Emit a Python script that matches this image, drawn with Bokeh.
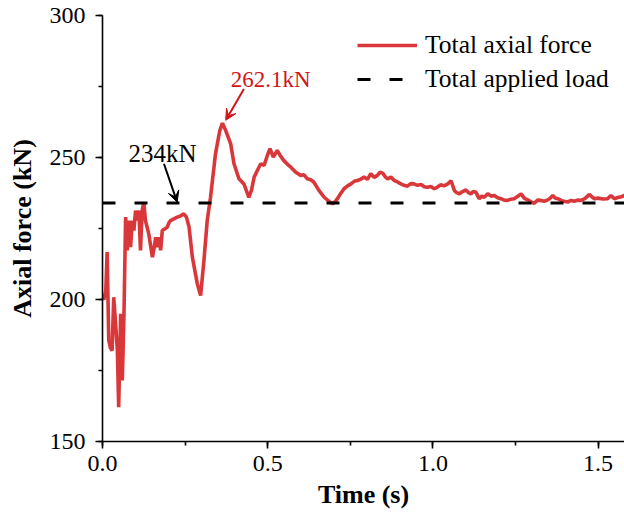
from bokeh.plotting import figure
from bokeh.models import (SingleIntervalTicker, Arrow, VeeHead, Label,
                          NumeralTickFormatter, Range1d)
from bokeh.embed import file_html
from bokeh.resources import INLINE

# ---- data ----
time_s = [0.000, 0.004, 0.010, 0.014, 0.019, 0.024, 0.029, 0.034, 0.039, 0.045,
          0.049, 0.055, 0.060, 0.065, 0.070, 0.075, 0.080, 0.085, 0.090, 0.095,
          0.100, 0.105, 0.110, 0.115, 0.120, 0.125, 0.130, 0.140, 0.151, 0.156,
          0.161, 0.166, 0.171, 0.176, 0.181, 0.188, 0.196, 0.201, 0.206, 0.216,
          0.226, 0.236, 0.246, 0.254, 0.262, 0.272, 0.287, 0.297, 0.307, 0.317,
          0.327, 0.342, 0.355, 0.363, 0.373, 0.388, 0.398, 0.413, 0.428, 0.443,
          0.451, 0.459, 0.469, 0.479, 0.489, 0.499, 0.507, 0.517, 0.529, 0.539,
          0.549, 0.560, 0.570, 0.585, 0.600, 0.610, 0.620, 0.630, 0.640, 0.655,
          0.671, 0.685, 0.696, 0.704, 0.711, 0.721, 0.731, 0.742, 0.752, 0.762,
          0.772, 0.782, 0.792, 0.802, 0.812, 0.822, 0.832, 0.840, 0.848, 0.856,
          0.863, 0.873, 0.883, 0.893, 0.903, 0.913, 0.923, 0.933, 0.943, 0.953,
          0.964, 0.974, 0.984, 0.994, 1.004, 1.014, 1.024, 1.034, 1.045, 1.055,
          1.065, 1.072, 1.080, 1.090, 1.100, 1.108, 1.115, 1.122, 1.130, 1.140,
          1.148, 1.155, 1.166, 1.176, 1.186, 1.196, 1.206, 1.216, 1.226, 1.236,
          1.246, 1.256, 1.267, 1.277, 1.287, 1.297, 1.307, 1.317, 1.327, 1.337,
          1.348, 1.356, 1.363, 1.370, 1.378, 1.390, 1.408, 1.418, 1.428, 1.438,
          1.448, 1.460, 1.474, 1.482, 1.489, 1.500, 1.515, 1.529, 1.539, 1.549,
          1.560, 1.570, 1.580]
axial_kN = [200.8, 200.0, 203.0, 216.7, 185.6, 183.0, 182.0, 200.8, 192.6, 182.0,
            162.1, 195.0, 171.5, 195.0, 229.0, 217.3, 227.8, 218.4, 227.8, 224.3,
            231.3, 227.8, 231.3, 217.3, 231.3, 234.3, 227.8, 223.1, 214.9, 218.0,
            221.9, 218.4, 221.9, 217.3, 224.3, 224.8, 225.5, 227.0, 227.8, 228.4,
            229.0, 229.4, 230.2, 229.0, 225.5, 214.9, 205.5, 201.4, 213.7, 227.8,
            236.0, 251.3, 259.5, 262.1, 259.5, 254.8, 247.8, 242.5, 240.7, 236.0,
            238.5, 243.1, 245.5, 247.8, 247.2, 250.7, 253.1, 250.1, 252.5, 250.5,
            248.9, 247.6, 246.6, 244.8, 243.7, 243.9, 242.5, 242.2, 241.3, 238.4,
            236.0, 234.6, 233.7, 234.4, 235.5, 237.3, 239.0, 240.0, 240.7, 241.6,
            241.9, 242.4, 243.1, 242.3, 244.3, 243.0, 243.7, 244.8, 244.5, 243.2,
            242.5, 243.1, 241.9, 241.4, 240.7, 240.2, 239.9, 240.8, 240.7, 240.2,
            240.5, 239.7, 239.5, 239.8, 239.0, 239.6, 240.4, 240.0, 240.7, 241.8,
            238.4, 237.6, 237.2, 238.0, 238.6, 237.6, 237.2, 238.0, 237.8, 235.5,
            236.4, 236.0, 237.2, 236.4, 236.6, 235.8, 235.5, 235.0, 234.9, 235.3,
            235.5, 236.3, 237.2, 235.6, 235.1, 234.4, 233.9, 235.0, 234.9, 234.6,
            235.1, 235.8, 236.6, 235.7, 235.5, 234.8, 234.3, 234.9, 234.6, 235.0,
            234.9, 235.5, 237.0, 236.1, 235.5, 235.7, 235.4, 235.5, 236.6, 235.5,
            235.9, 236.2, 236.6]
applied_load = 234.0
peak_text = "262.1kN"
load_text = "234kN"
series_names = ["Total axial force", "Total applied load"]

x_end = 1.58
FONT = "Liberation Serif"
RED = "#d9373a"
DARK_RED = "#d0151c"

p = figure(width=624, height=516, output_backend="svg", toolbar_location=None,
           x_range=Range1d(0, x_end), y_range=Range1d(150, 300),
           min_border_left=102, min_border_right=0, min_border_top=15,
           min_border_bottom=75)
p.outline_line_color = None
p.grid.visible = False
p.background_fill_color = "white"
p.border_fill_color = "white"

p.line(time_s, axial_kN, line_color=RED, line_width=3.6,
       legend_label=series_names[0])
p.line([0, x_end], [applied_load, applied_load], line_color="black",
       line_width=3, line_dash="13 19", legend_label=series_names[1])

for ax in (p.xaxis[0], p.yaxis[0]):
    ax.axis_line_width = 1.6
    ax.axis_line_color = "black"
    ax.major_tick_line_width = 1.6
    ax.minor_tick_line_width = 1.6
    ax.major_tick_out = 7
    ax.major_tick_in = 0
    ax.minor_tick_out = 4
    ax.minor_tick_in = 0
    ax.major_label_text_font = FONT
    ax.major_label_text_font_size = "24px"
    ax.major_label_text_color = "black"
    ax.axis_label_text_font = FONT
    ax.axis_label_text_font_style = "bold"
    ax.axis_label_text_font_size = "26px"
    ax.axis_label_text_color = "black"

p.xaxis.ticker = SingleIntervalTicker(interval=0.5, num_minor_ticks=2)
p.yaxis.ticker = SingleIntervalTicker(interval=50, num_minor_ticks=2)
p.xaxis.formatter = NumeralTickFormatter(format="0.0")
p.xaxis.axis_label = "Time (s)"
p.yaxis.axis_label = "Axial force (kN)"
p.yaxis.major_label_standoff = 10
p.xaxis.major_label_standoff = 7
p.yaxis.axis_label_standoff = 10
p.xaxis.axis_label_standoff = 6

leg = p.legend[0]
leg.location = (255, 347)
leg.background_fill_alpha = 0
leg.border_line_color = None
leg.padding = 0
leg.margin = 0
leg.spacing = 4
leg.glyph_width = 60
leg.glyph_height = 24
leg.label_standoff = 8
leg.label_text_font = FONT
leg.label_text_font_size = "25.5px"
leg.label_text_color = "black"

# annotations
peak_i = axial_kN.index(max(axial_kN))
pk_t, pk_y = time_s[peak_i], axial_kN[peak_i]
p.add_layout(Arrow(end=VeeHead(size=11, fill_color=DARK_RED, line_color=DARK_RED),
                   x_start=pk_t + 0.065, y_start=pk_y + 12,
                   x_end=pk_t + 0.01, y_end=pk_y + 1,
                   line_color=DARK_RED, line_width=2))
p.add_layout(Label(x=pk_t + 0.146, y=pk_y + 15.5, text=peak_text,
                   text_font=FONT, text_font_size="23px", text_color=DARK_RED,
                   text_align="center", text_baseline="alphabetic"))

p.add_layout(Arrow(end=VeeHead(size=11, fill_color="black", line_color="black"),
                   x_start=0.186, y_start=applied_load + 13.8,
                   x_end=0.226, y_end=applied_load + 0.3,
                   line_color="black", line_width=2))
p.add_layout(Label(x=0.182, y=applied_load + 17.3, text=load_text,
                   text_font=FONT, text_font_size="25px", text_color="black",
                   text_align="center", text_baseline="alphabetic"))

open("out.html", "w").write(file_html(p, INLINE))
